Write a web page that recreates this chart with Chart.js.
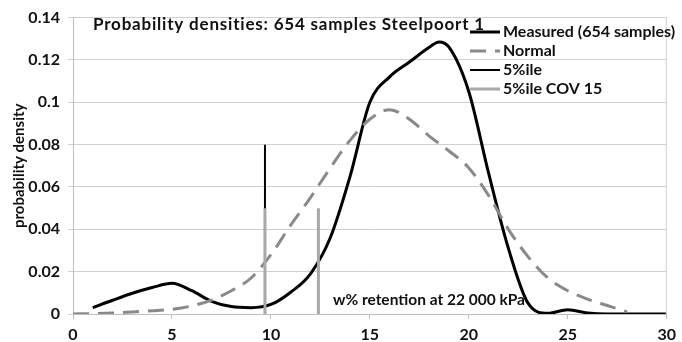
<!DOCTYPE html>
<html>
<head>
<meta charset="utf-8">
<script src="https://cdn.jsdelivr.net/npm/chart.js@4.4.1/dist/chart.umd.min.js"></script>
<style>
  html, body { margin: 0; padding: 0; background: #fff; }
  #wrap { width: 682px; height: 342px; }
</style>
</head>
<body>
<div id="wrap"><canvas id="chart" width="682" height="342"></canvas></div>
<script>
// values
const measuredX = [1, 2, 3, 4, 5, 6, 7, 8, 9, 10, 11, 12, 13, 14, 15, 16, 17, 18, 18.5, 19, 20, 21, 22, 23, 24, 25, 26, 27, 28, 29, 30];
const measuredY = [0.003, 0.0065, 0.0098, 0.0125, 0.0145, 0.011, 0.006, 0.0035, 0.003, 0.0045, 0.0103, 0.019, 0.036, 0.065, 0.1, 0.112, 0.119, 0.126, 0.1285, 0.126, 0.105, 0.0665, 0.031, 0.005, 0.0003, 0.002, 0.0005, 0, 0, 0, 0];

const normalX = [0, 1, 2, 3, 4, 5, 6, 7, 8, 9, 10, 11, 12, 13, 14, 15, 16, 17, 18, 19, 20, 21, 22, 23, 24, 25, 26, 27, 28];
const normalY = [0, 0.0002, 0.0005, 0.001, 0.0015, 0.0022, 0.0038, 0.0066, 0.011, 0.017, 0.028, 0.042, 0.055, 0.069, 0.082, 0.092, 0.0965, 0.092, 0.084, 0.077, 0.069, 0.056, 0.04, 0.027, 0.017, 0.011, 0.007, 0.004, 0.001];

const pctX = [9.7, 9.7];
const pctY = [0, 0.08];

const covX = [9.7, 9.7, 11, 12.4, 12.4];
const covY = [0, 0.05, null, 0.05, 0];

const xTicks = [0, 5, 10, 15, 20, 25, 30];
const yTicks = [0, 0.02, 0.04, 0.06, 0.08, 0.1, 0.12, 0.14];

const titleText = 'Probability densities: 654 samples Steelpoort 1';
const xNote = 'w% retention at 22 000 kPa';

const toPoints = (xs, ys) => xs.map((x, i) => ({ x: x, y: ys[i] }));

Chart.defaults.font.family = 'Lato, "Open Sans", sans-serif';
Chart.defaults.font.weight = 'bold';
Chart.defaults.color = '#111';

const overlay = {
  id: 'overlay',
  afterDraw(chart) {
    const ctx = chart.ctx;
    const a = chart.chartArea;
    ctx.save();
    // right edge of plot frame
    ctx.strokeStyle = '#d0d0d0';
    ctx.lineWidth = 1;
    ctx.beginPath();
    ctx.moveTo(a.right - 0.5, a.top);
    ctx.lineTo(a.right - 0.5, a.bottom);
    ctx.stroke();

    ctx.fillStyle = '#111';
    ctx.textBaseline = 'middle';
    ctx.textAlign = 'left';
    ctx.font = 'bold 17px Lato, "Open Sans", sans-serif';
    ctx.letterSpacing = '0.8px';
    ctx.fillText(titleText, 93, 25);
    ctx.letterSpacing = '0px';

    ctx.font = 'bold 15.5px Lato, "Open Sans", sans-serif';
    ctx.fillText(xNote, 333, 300);

    // legend
    const rows = [32, 51, 70, 89];
    chart.data.datasets.forEach((ds, i) => {
      const y = rows[i];
      ctx.strokeStyle = ds.borderColor;
      ctx.lineWidth = ds.borderWidth;
      ctx.setLineDash(ds.borderDash || []);
      ctx.beginPath();
      ctx.moveTo(470, y);
      ctx.lineTo(500, y);
      ctx.stroke();
      ctx.setLineDash([]);
      ctx.fillStyle = '#111';
      ctx.font = 'bold 16px Lato, "Open Sans", sans-serif';
      ctx.fillText(ds.label, 503, y);
    });
    ctx.restore();
  }
};

new Chart(document.getElementById('chart'), {
  type: 'line',
  data: {
    datasets: [
      {
        label: 'Measured (654 samples)',
        data: toPoints(measuredX, measuredY),
        borderColor: '#000',
        borderWidth: 3,
        pointRadius: 0,
        cubicInterpolationMode: 'monotone',
        order: 3
      },
      {
        label: 'Normal',
        data: toPoints(normalX, normalY),
        borderColor: '#8a8a8a',
        borderWidth: 3,
        borderDash: [16, 9],
        pointRadius: 0,
        cubicInterpolationMode: 'monotone',
        order: 2
      },
      {
        label: '5%ile',
        data: toPoints(pctX, pctY),
        borderColor: '#000',
        borderWidth: 2,
        pointRadius: 0,
        order: 1
      },
      {
        label: '5%ile COV 15',
        data: toPoints(covX, covY),
        borderColor: '#a8a8a8',
        borderWidth: 3,
        pointRadius: 0,
        spanGaps: false,
        order: 0
      }
    ]
  },
  options: {
    responsive: false,
    animation: false,
    layout: { padding: { top: 15, right: 10, left: 0, bottom: 0 } },
    plugins: {
      legend: { display: false },
      tooltip: { enabled: false }
    },
    scales: {
      x: {
        type: 'linear',
        min: 0,
        max: 30,
        afterBuildTicks: (axis) => { axis.ticks = xTicks.map(v => ({ value: v })); },
        afterFit: (axis) => { axis.height = 28; },
        ticks: { padding: 6, font: { size: 16, weight: 'bold' }, color: '#111' },
        grid: { drawOnChartArea: false, tickLength: 5, color: '#bfbfbf' },
        border: { color: '#bfbfbf' }
      },
      y: {
        min: 0,
        max: 0.14,
        afterBuildTicks: (axis) => { axis.ticks = yTicks.map(v => ({ value: v })); },
        afterFit: (axis) => { axis.width = 73; },
        ticks: {
          padding: 8,
          font: { size: 16, weight: 'bold' },
          color: '#111',
          callback: (v) => String(+v.toFixed(2))
        },
        grid: { color: '#d0d0d0', tickLength: 5 },
        border: { color: '#bfbfbf' },
        title: {
          display: true,
          text: 'probability density',
          font: { size: 15, weight: 'bold' },
          color: '#111',
          padding: { top: 10, bottom: 0 }
        }
      }
    }
  },
  plugins: [overlay]
});
</script>
</body>
</html>
